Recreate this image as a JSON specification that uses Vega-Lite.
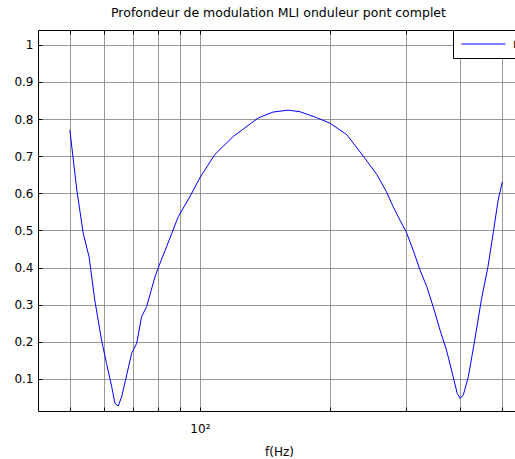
{
  "$schema": "https://vega.github.io/schema/vega-lite/v6.json",
  "autosize": "none",
  "width": 477,
  "height": 381,
  "padding": {"left": 38, "top": 30, "right": 0, "bottom": 48},
  "background": "white",
  "config": {
    "font": "DejaVu Sans",
    "view": {"stroke": null},
    "axis": {
      "domainColor": "black",
      "domainWidth": 1,
      "tickColor": "black",
      "tickSize": -4,
      "labelColor": "black",
      "labelFontSize": 12,
      "titleColor": "black",
      "titleFontSize": 12,
      "titleFontWeight": "normal",
      "gridColor": "#808080",
      "gridWidth": 1,
      "gridOpacity": 0.8
    }
  },
  "title": {
    "text": "Profondeur de modulation MLI onduleur pont complet",
    "fontSize": 12.5,
    "fontWeight": "normal",
    "color": "black",
    "offset": 10,
    "dx": 2
  },
  "data": {
    "values": [
      {"f": 50, "m": 0.771, "serie": "m"},
      {"f": 51.9, "m": 0.609, "serie": "m"},
      {"f": 53.7, "m": 0.492, "serie": "m"},
      {"f": 55.4, "m": 0.429, "serie": "m"},
      {"f": 57.1, "m": 0.313, "serie": "m"},
      {"f": 59.2, "m": 0.205, "serie": "m"},
      {"f": 60.8, "m": 0.142, "serie": "m"},
      {"f": 62.5, "m": 0.079, "serie": "m"},
      {"f": 63.6, "m": 0.034, "serie": "m"},
      {"f": 64.7, "m": 0.027, "serie": "m"},
      {"f": 65.9, "m": 0.052, "serie": "m"},
      {"f": 67.7, "m": 0.111, "serie": "m"},
      {"f": 69.5, "m": 0.169, "serie": "m"},
      {"f": 71.4, "m": 0.196, "serie": "m"},
      {"f": 73.3, "m": 0.268, "serie": "m"},
      {"f": 75.3, "m": 0.295, "serie": "m"},
      {"f": 78.7, "m": 0.375, "serie": "m"},
      {"f": 80, "m": 0.398, "serie": "m"},
      {"f": 83.7, "m": 0.456, "serie": "m"},
      {"f": 89.1, "m": 0.537, "serie": "m"},
      {"f": 94.8, "m": 0.591, "serie": "m"},
      {"f": 100, "m": 0.642, "serie": "m"},
      {"f": 108.3, "m": 0.705, "serie": "m"},
      {"f": 119.4, "m": 0.753, "serie": "m"},
      {"f": 136.4, "m": 0.803, "serie": "m"},
      {"f": 147.7, "m": 0.819, "serie": "m"},
      {"f": 160.1, "m": 0.824, "serie": "m"},
      {"f": 170.3, "m": 0.82, "serie": "m"},
      {"f": 186.2, "m": 0.804, "serie": "m"},
      {"f": 200, "m": 0.789, "serie": "m"},
      {"f": 218.7, "m": 0.758, "serie": "m"},
      {"f": 238.9, "m": 0.7, "serie": "m"},
      {"f": 256.6, "m": 0.651, "serie": "m"},
      {"f": 270, "m": 0.605, "serie": "m"},
      {"f": 280, "m": 0.564, "serie": "m"},
      {"f": 290.3, "m": 0.528, "serie": "m"},
      {"f": 300, "m": 0.497, "serie": "m"},
      {"f": 311.5, "m": 0.447, "serie": "m"},
      {"f": 323, "m": 0.394, "serie": "m"},
      {"f": 334.9, "m": 0.349, "serie": "m"},
      {"f": 346.5, "m": 0.295, "serie": "m"},
      {"f": 359.4, "m": 0.232, "serie": "m"},
      {"f": 372, "m": 0.178, "serie": "m"},
      {"f": 385.5, "m": 0.106, "serie": "m"},
      {"f": 394, "m": 0.061, "serie": "m"},
      {"f": 400, "m": 0.048, "serie": "m"},
      {"f": 407, "m": 0.057, "serie": "m"},
      {"f": 418, "m": 0.106, "serie": "m"},
      {"f": 432.6, "m": 0.205, "serie": "m"},
      {"f": 448, "m": 0.313, "serie": "m"},
      {"f": 464, "m": 0.402, "serie": "m"},
      {"f": 477, "m": 0.492, "serie": "m"},
      {"f": 490, "m": 0.582, "serie": "m"},
      {"f": 501, "m": 0.631, "serie": "m"}
    ]
  },
  "layer": [
    {
      "mark": {"type": "line", "strokeWidth": 1},
      "encoding": {
        "x": {
          "field": "f",
          "type": "quantitative",
          "scale": {"type": "log", "domain": [42.2, 536], "nice": false},
          "axis": {
            "values": [50, 60, 70, 80, 90, 100, 200, 300, 400, 500],
            "labelExpr": "datum.value == 100 ? '10²' : ''",
            "grid": true,
            "title": "f(Hz)",
            "labelPadding": 16,
            "titlePadding": 12,
            "titleX": 241
          }
        },
        "y": {
          "field": "m",
          "type": "quantitative",
          "scale": {"domain": [0.0137, 1.04], "nice": false, "zero": false},
          "axis": {
            "values": [0.1, 0.2, 0.3, 0.4, 0.5, 0.6, 0.7, 0.8, 0.9, 1],
            "format": "~g",
            "grid": true,
            "title": null,
            "labelPadding": 9
          }
        },
        "color": {
          "field": "serie",
          "type": "nominal",
          "scale": {"range": ["#0000ff"]},
          "legend": {
            "orient": "none",
            "legendX": 415,
            "legendY": 0,
            "title": null,
            "strokeColor": "black",
            "fillColor": "white",
            "padding": 8,
            "symbolType": "M-1,0H7",
            "symbolSize": 121,
            "symbolStrokeWidth": 1,
            "labelFontSize": 12,
            "labelColor": "black",
            "labelOffset": 40
          }
        }
      }
    },
    {
      "mark": {"type": "line", "opacity": 0},
      "encoding": {
        "x": {
          "field": "f",
          "type": "quantitative",
          "axis": {
            "orient": "top",
            "values": [50, 60, 70, 80, 90, 100, 200, 300, 400, 500],
            "labels": false,
            "grid": false,
            "title": null
          }
        },
        "y": {"field": "m", "type": "quantitative"}
      }
    }
  ],
  "resolve": {"axis": {"x": "independent"}}
}
